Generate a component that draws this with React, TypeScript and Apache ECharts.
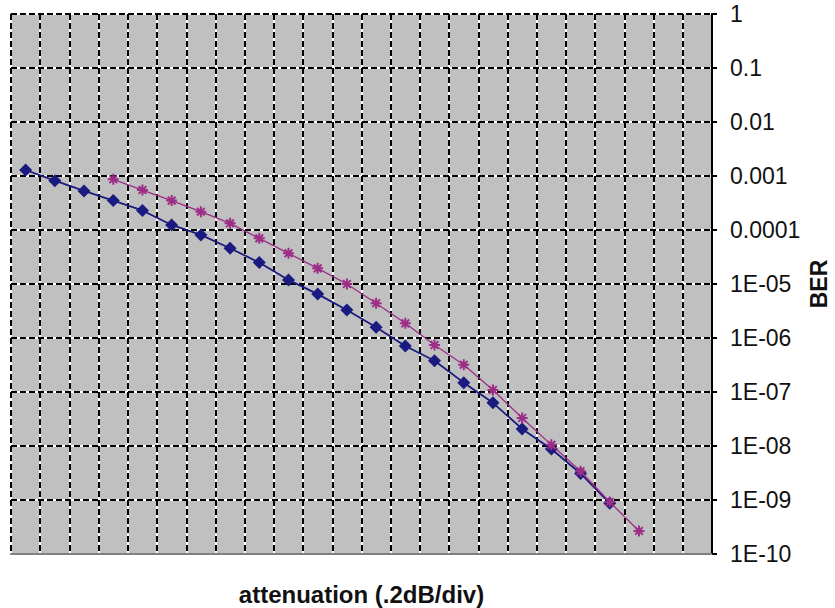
import React, { useEffect, useRef } from "react";
import * as echarts from "echarts";

const categories = Array.from({ length: 24 }, (_, i) => String(i + 1));
const blueBER: (number | null)[] = [
  1.29e-3, 8.2e-4, 5.3e-4, 3.5e-4, 2.3e-4, 1.24e-4, 8.1e-5, 4.6e-5, 2.5e-5, 1.19e-5,
  6.5e-6, 3.3e-6, 1.58e-6, 7.1e-7, 3.8e-7, 1.49e-7, 6.3e-8, 2.07e-8, 8.8e-9, 3.1e-9,
  8.7e-10, null, null, null,
];
const pinkBER: (number | null)[] = [
  null, null, null, 8.7e-4, 5.5e-4, 3.5e-4, 2.18e-4, 1.33e-4, 7.0e-5, 3.7e-5,
  1.95e-5, 1.0e-5, 4.4e-6, 1.87e-6, 7.4e-7, 3.2e-7, 1.09e-7, 3.3e-8, 1.05e-8, 3.4e-9,
  9.2e-10, 2.67e-10, null, null,
];
const xTitle = "attenuation (.2dB/div)";
const yTitle = "BER";

const FONT = "'Liberation Sans', Arial, sans-serif";

function fmt(v: number): string {
  const e = Math.round(Math.log10(v));
  if (e === 0) return "1";
  if (e >= -4) return "0." + "0".repeat(-e - 1) + "1";
  const n = -e;
  return "1E-" + (n < 10 ? "0" + n : String(n));
}

export default function App() {
  const ref = useRef<HTMLDivElement>(null);
  useEffect(() => {
    if (!ref.current) return;
    const chart = echarts.init(ref.current, null, { renderer: "svg" });
    const gridL = 11, gridR = 712, gridT = 14, gridB = 554;
    chart.setOption({
      animation: false,
      backgroundColor: "#ffffff",
      grid: {
        left: gridL,
        top: gridT,
        width: gridR - gridL,
        height: gridB - gridT,
        show: true,
        backgroundColor: "#C0C0C0",
        borderColor: "#808080",
        borderWidth: 1.5,
      },
      xAxis: [
        {
          type: "category",
          data: categories,
          boundaryGap: true,
          z: 1,
          axisLine: { show: true, lineStyle: { color: "#808080", width: 2 } },
          axisTick: { show: false },
          axisLabel: { show: false },
          splitLine: {
            show: true,
            interval: 0,
            lineStyle: { color: "#000000", width: 2, type: [6, 3] },
          },
        },
        {
          type: "category",
          data: categories,
          boundaryGap: true,
          z: 0,
          axisLine: { show: false },
          axisTick: { show: false },
          axisLabel: { show: false },
          splitLine: {
            show: true,
            interval: 0,
            lineStyle: { color: "#FFFFFF", width: 2, type: "solid" },
          },
        },
      ],
      yAxis: [
        {
          type: "log",
          logBase: 10,
          min: 1e-10,
          max: 1,
          interval: 1,
          position: "right",
          z: 1,
          axisLine: { show: true, lineStyle: { color: "#000000", width: 2 } },
          axisTick: { show: true, inside: false, length: 5, lineStyle: { color: "#000000", width: 2 } },
          axisLabel: {
            show: true,
            margin: 18,
            color: "#111111",
            fontFamily: FONT,
            fontSize: 23,
            formatter: (v: number) => fmt(v),
          },
          splitLine: {
            show: true,
            lineStyle: { color: "#000000", width: 2, type: [6, 3] },
          },
        },
        {
          type: "log",
          logBase: 10,
          min: 1e-10,
          max: 1,
          interval: 1,
          position: "right",
          z: 0,
          axisLine: { show: false },
          axisTick: { show: false },
          axisLabel: { show: false },
          splitLine: {
            show: true,
            lineStyle: { color: "#FFFFFF", width: 2, type: "solid" },
          },
        },
      ],
      series: [
        {
          name: "series1",
          type: "line",
          data: blueBER,
          xAxisIndex: 0,
          yAxisIndex: 0,
          symbol: "diamond",
          symbolSize: 13,
          connectNulls: false,
          lineStyle: { color: "#1A1A80", width: 1.8 },
          itemStyle: { color: "#1A1A80" },
          z: 3,
        },
        {
          name: "series2",
          type: "line",
          data: pinkBER,
          xAxisIndex: 0,
          yAxisIndex: 0,
          symbol: "path://M0,5 L10,5 M5,0 L5,10 M1.5,1.5 L8.5,8.5 M8.5,1.5 L1.5,8.5",
          symbolSize: 11,
          connectNulls: false,
          lineStyle: { color: "#9C2E88", width: 1.3 },
          itemStyle: { color: "#9C2E88", borderColor: "#9C2E88", borderWidth: 2 },
          z: 4,
        },
      ],
      graphic: [
        {
          type: "text",
          x: (gridL + gridR) / 2,
          y: 594,
          style: {
            text: xTitle,
            fontFamily: FONT,
            fontWeight: "bold",
            fontSize: 24,
            fill: "#111111",
            textAlign: "center",
            textVerticalAlign: "middle",
          },
        },
        {
          type: "text",
          x: 818.5,
          y: (gridT + gridB) / 2,
          rotation: Math.PI / 2,
          style: {
            text: yTitle,
            fontFamily: FONT,
            fontWeight: "bold",
            fontSize: 23,
            fill: "#111111",
            textAlign: "center",
            textVerticalAlign: "middle",
          },
        },
      ],
    });
    return () => chart.dispose();
  }, []);
  return (
    <div
      ref={ref}
      style={{ position: "fixed", left: 0, top: 0, width: 835, height: 608 }}
    />
  );
}
